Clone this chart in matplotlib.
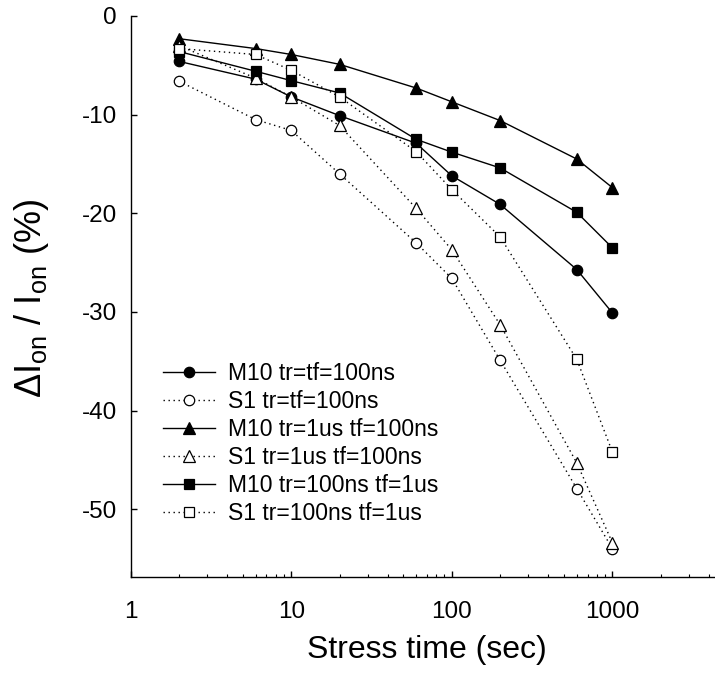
import matplotlib
matplotlib.use("Agg")
import matplotlib.pyplot as plt
from matplotlib.ticker import FixedLocator, NullFormatter, NullLocator

plt.rcParams['font.family'] = ['Liberation Sans', 'DejaVu Sans']
plt.rcParams['mathtext.fontset'] = 'custom'
plt.rcParams['mathtext.rm'] = 'Liberation Sans'
plt.rcParams['mathtext.it'] = 'Liberation Sans'
plt.rcParams['mathtext.default'] = 'regular'

# ---- data ----
stress_time = [2, 6, 10, 20, 60, 100, 200, 600, 1000]

m10_tr_tf_100ns = [-4.6, -6.4, -8.2, -10.1, -12.9, -16.2, -19.1, -25.7, -30.1]
s1_tr_tf_100ns = [-6.6, -10.5, -11.6, -16.0, -23.0, -26.6, -34.9, -47.9, -54.0]
m10_tr1us_tf100ns = [-2.3, -3.3, -3.9, -4.9, -7.3, -8.7, -10.6, -14.5, -17.4]
s1_tr1us_tf100ns = [-3.0, -6.3, -8.2, -11.1, -19.5, -23.7, -31.3, -45.3, -53.4]
m10_tr100ns_tf1us = [-3.6, -5.6, -6.55, -7.8, -12.5, -13.8, -15.4, -19.9, -23.5]
s1_tr100ns_tf1us = [-3.3, -3.9, -5.5, -8.2, -13.75, -17.6, -22.4, -34.8, -44.2]

series_labels = ["M10 tr=tf=100ns", "S1 tr=tf=100ns", "M10 tr=1us tf=100ns",
                 "S1 tr=1us tf=100ns", "M10 tr=100ns tf=1us", "S1 tr=100ns tf=1us"]

x_tick_values = [1, 10, 100, 1000]
x_tick_labels = ["1", "10", "100", "1000"]
y_tick_values = [0, -10, -20, -30, -40, -50]
y_tick_labels = ["0", "-10", "-20", "-30", "-40", "-50"]

x_label = "Stress time (sec)"
y_label = r"ΔI$_{on}$ / I$_{on}$ (%)"

# ---- figure ----
W, H = 715, 677
fig = plt.figure(figsize=(W / 100, H / 100), dpi=100)
left, right, top, bottom = 130.6, 715.0, 16.0, 577.3
ax = fig.add_axes([left / W, 1 - bottom / H, (right - left) / W, (bottom - top) / H])

dotted = (0, (1, 2.6))
styles = [
    dict(marker='o', linestyle='-', mfc='black', ms=7.5),
    dict(marker='o', linestyle=dotted, mfc='white', ms=7.5),
    dict(marker='^', linestyle='-', mfc='black', ms=8),
    dict(marker='^', linestyle=dotted, mfc='white', ms=8),
    dict(marker='s', linestyle='-', mfc='black', ms=6.5),
    dict(marker='s', linestyle=dotted, mfc='white', ms=6.5),
]
data = [m10_tr_tf_100ns, s1_tr_tf_100ns, m10_tr1us_tf100ns,
        s1_tr1us_tf100ns, m10_tr100ns_tf1us, s1_tr100ns_tf1us]

for i, (vals, st, lab) in enumerate(zip(data, styles, series_labels)):
    ax.plot(stress_time, vals, color='black', lw=1.0, mec='black', mew=0.9,
            label=lab, zorder=3 + i, **st)

ax.set_xscale('log')
xmax = 10 ** ((right - left) / 160.6)
ax.set_xlim(1, xmax)
ax.set_ylim(-56.9, 0)

ax.xaxis.set_major_locator(FixedLocator(x_tick_values))
ax.set_xticklabels(x_tick_labels)
minors = [m * 10 ** d for d in range(0, 4) for m in range(2, 10)]
ax.xaxis.set_minor_locator(FixedLocator(minors))
ax.xaxis.set_minor_formatter(NullFormatter())
ax.yaxis.set_major_locator(FixedLocator(y_tick_values))
ax.set_yticklabels(y_tick_labels)
ax.yaxis.set_minor_locator(NullLocator())

ax.tick_params(axis='both', which='major', direction='in', length=4.5, width=1,
               labelsize=17.5)
ax.tick_params(axis='x', which='minor', direction='in', length=2.5, width=0.8)
ax.tick_params(axis='y', which='major', pad=10)
ax.tick_params(axis='x', which='major', pad=17)

for s in ['top', 'right']:
    ax.spines[s].set_visible(False)
for s in ['left', 'bottom']:
    ax.spines[s].set_linewidth(1.0)

fig.text(427 / W, 1 - 650 / H, x_label, fontsize=23, ha='center', va='center')
fig.text(32 / W, 1 - 298 / H, y_label, fontsize=26, ha='center', va='center',
         rotation=90)

leg = ax.legend(loc='lower left', bbox_to_anchor=(163 / W, 1 - 525 / H),
                bbox_transform=fig.transFigure, frameon=False, fontsize=16.5,
                handlelength=2.27, handletextpad=0.57, labelspacing=0.22,
                borderpad=0, borderaxespad=0, numpoints=1)

fig.savefig("out.png", dpi=100)
